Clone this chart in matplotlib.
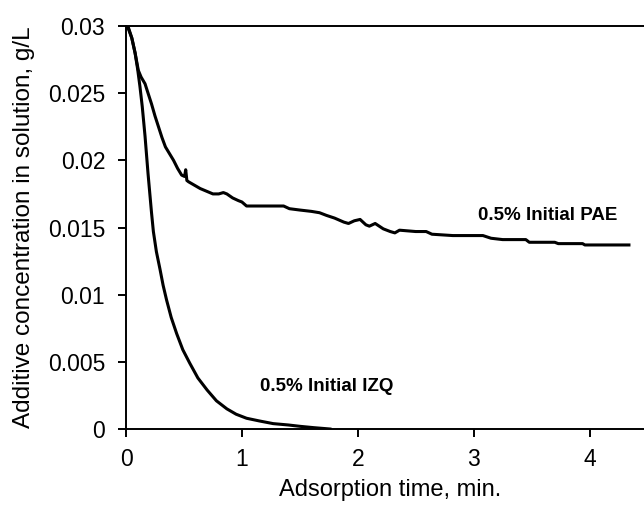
import matplotlib
matplotlib.use("Agg")
import matplotlib.pyplot as plt

plt.rcParams['font.family'] = ['Liberation Sans', 'DejaVu Sans']

# data
pae_t = [0.0, 0.02, 0.05, 0.078, 0.106, 0.13, 0.164, 0.19, 0.22, 0.25, 0.28, 0.31, 0.34,
         0.375, 0.41, 0.445, 0.48, 0.505, 0.515, 0.525, 0.54, 0.64, 0.75, 0.80, 0.84,
         0.87, 0.92, 0.97, 1.00, 1.04, 1.20, 1.36, 1.41, 1.50, 1.60, 1.67, 1.73, 1.80,
         1.88, 1.92, 1.97, 2.02, 2.07, 2.10, 2.15, 2.22, 2.28, 2.32, 2.36, 2.50, 2.59,
         2.64, 2.82, 3.08, 3.15, 3.25, 3.45, 3.48, 3.70, 3.73, 3.94, 3.96, 4.34]
pae_c = [0.0300, 0.0299, 0.0291, 0.0280, 0.0267, 0.0262, 0.0257, 0.0250, 0.0242, 0.0233,
         0.0225, 0.0217, 0.0210, 0.0205, 0.0200, 0.0194, 0.0189, 0.0188, 0.0193, 0.0185,
         0.0184, 0.0179, 0.0175, 0.0175, 0.0176, 0.0175, 0.0172, 0.0170, 0.0169,
         0.0166, 0.0166, 0.0166, 0.0164, 0.0163, 0.0162, 0.0161, 0.0159, 0.0157, 0.0154,
         0.0153, 0.0155, 0.0156, 0.0152, 0.0151, 0.0153, 0.0149, 0.0147, 0.0146, 0.0148,
         0.0147, 0.0147, 0.0145, 0.0144, 0.0144, 0.0142, 0.0141, 0.0141, 0.0139, 0.0139,
         0.0138, 0.0138, 0.0137, 0.0137]

izq_t = [0.0, 0.02, 0.05, 0.078, 0.10, 0.12, 0.14, 0.164, 0.19, 0.22, 0.236,
         0.262, 0.293, 0.32, 0.35, 0.39, 0.437, 0.49, 0.55, 0.62, 0.70, 0.78, 0.87, 0.95,
         1.04, 1.15, 1.27, 1.40, 1.50, 1.62, 1.76]
izq_c = [0.0300, 0.0298, 0.0291, 0.0280, 0.0268, 0.0255, 0.0240, 0.0218, 0.0190, 0.0161,
         0.0147, 0.0132, 0.0119, 0.0107, 0.0096, 0.0083, 0.0071, 0.0059, 0.0049,
         0.0038, 0.0029, 0.0021, 0.0015, 0.0011, 0.0008, 0.0006, 0.0004, 0.0003, 0.0002,
         0.0001, 0.0000]

yticks = [0, 0.005, 0.01, 0.015, 0.02, 0.025, 0.03]
ytick_labels = ['0', '0.005', '0.01', '0.015', '0.02', '0.025', '0.03']
xticks = [0, 1, 2, 3, 4]

fig = plt.figure(figsize=(6.44, 5.05), dpi=100)
ax = fig.add_axes([0.1957, 0.1505, 0.8043, 0.798])

ax.plot(pae_t, pae_c, color='black', lw=2.2, solid_joinstyle='round')
ax.plot(izq_t, izq_c, color='black', lw=2.2, solid_joinstyle='round')

ax.set_xlim(0, 4.47)
ax.set_ylim(0, 0.03)
ax.set_yticks(yticks)
ax.set_yticklabels(ytick_labels)
ax.set_xticks(xticks)

ax.spines['right'].set_visible(False)
for s in ['left', 'bottom', 'top']:
    ax.spines[s].set_linewidth(1.4)
ax.tick_params(direction='out', length=6, width=1.4, labelsize=16.5)
ax.tick_params(axis='y', pad=9)
ax.tick_params(axis='x', pad=8)

ax.set_xlabel('Adsorption time, min.', fontsize=17)
ax.set_ylabel('Additive concentration in solution, g/L', fontsize=17.5)
ax.xaxis.set_label_coords(0.51, -0.125)
ax.yaxis.set_label_coords(-0.176, 0.5)

ax.text(3.04, 0.0159, '0.5% Initial PAE', fontsize=13.5, fontweight='bold', va='center')
ax.text(1.16, 0.0032, '0.5% Initial IZQ', fontsize=13.5, fontweight='bold', va='center')

fig.savefig('out.png', dpi=100)
